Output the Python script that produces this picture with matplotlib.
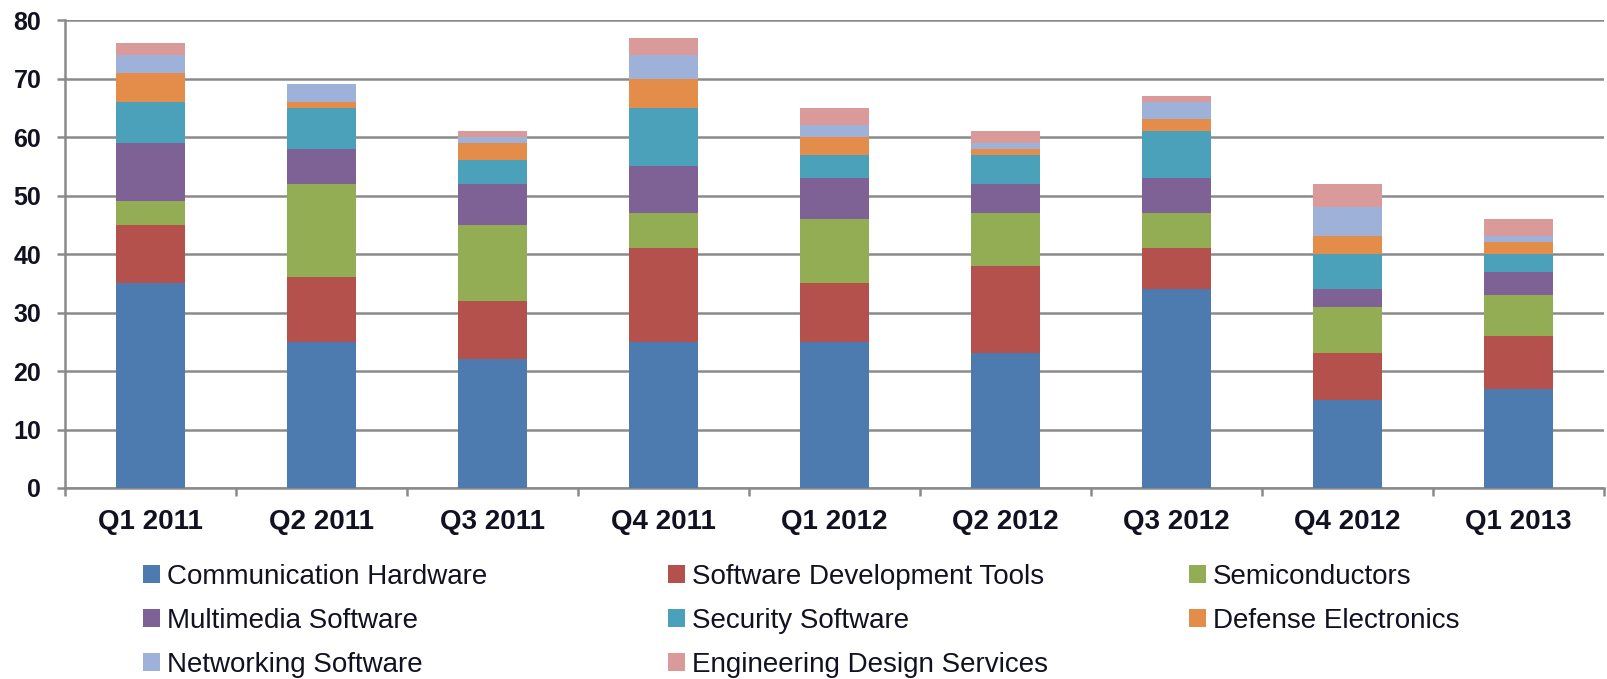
import numpy as np
import matplotlib
matplotlib.use("Agg")
import matplotlib.pyplot as plt
from matplotlib.ticker import FixedLocator

# quarters on the x axis
quarters = ["Q1 2011", "Q2 2011", "Q3 2011", "Q4 2011", "Q1 2012",
            "Q2 2012", "Q3 2012", "Q4 2012", "Q1 2013"]

# segment values per quarter
comm_hw = [35, 25, 22, 25, 25, 23, 34, 15, 17]
sw_dev_tools = [10, 11, 10, 16, 10, 15, 7, 8, 9]
semis = [4, 16, 13, 6, 11, 9, 6, 8, 7]
multimedia = [10, 6, 7, 8, 7, 5, 6, 3, 4]
security = [7, 7, 4, 10, 4, 5, 8, 6, 3]
defense = [5, 1, 3, 5, 3, 1, 2, 3, 2]
networking = [3, 3, 1, 4, 2, 1, 3, 5, 1]
eng_design = [2, 0, 1, 3, 3, 2, 1, 4, 3]

series_names = ["Communication Hardware", "Software Development Tools", "Semiconductors",
                "Multimedia Software", "Security Software", "Defense Electronics",
                "Networking Software", "Engineering Design Services"]
series_vals = [comm_hw, sw_dev_tools, semis, multimedia, security, defense, networking, eng_design]
colors = ["#4E7BAF", "#B5514C", "#93AD55", "#7E6296",
          "#4AA1B9", "#E48C4A", "#9EB2D9", "#DB9A9A"]

plt.rcParams['font.family'] = ['Liberation Sans', 'DejaVu Sans']

fig = plt.figure(figsize=(16.08, 6.79), dpi=100)
ax = fig.add_axes([0.0404, 0.2813, 0.9571, 0.6892])

x = np.arange(len(quarters))
bottom = np.zeros(len(quarters))
handles = []
for name, vals, c in zip(series_names, series_vals, colors):
    b = ax.bar(x, vals, width=0.4, bottom=bottom, color=c, label=name, zorder=3, linewidth=0)
    handles.append(b)
    bottom += np.array(vals)

ax.set_xlim(-0.5, len(quarters) - 0.5)
ax.set_ylim(0, 80)
ax.set_yticks(range(0, 81, 10))
ax.yaxis.grid(True, color="#8a8a8a", linewidth=1.8, zorder=0)
ax.set_axisbelow(True)

for s in ["top", "right"]:
    ax.spines[s].set_visible(False)
for s in ["left", "bottom"]:
    ax.spines[s].set_color("#8a8a8a")
    ax.spines[s].set_linewidth(1.8)

ax.set_xticks(x)
ax.set_xticklabels(quarters, fontsize=20, fontweight="bold", color="#111122")
ax.tick_params(axis="x", which="major", length=0, pad=15)
ax.xaxis.set_minor_locator(FixedLocator(np.arange(-0.5, len(quarters), 1)))
ax.tick_params(axis="x", which="minor", length=6, width=1.8, color="#8a8a8a", direction="out")
ax.tick_params(axis="y", length=6, width=1.8, color="#8a8a8a", pad=11,
               labelsize=18, labelcolor="#111122")
for t in ax.get_yticklabels():
    t.set_fontweight("bold")

# legend: three columns, filled row-wise like the original
col_x = [143, 668, 1189]
for col in range(3):
    idx = list(range(col, len(series_names), 3))
    fig.legend([handles[i] for i in idx], [series_names[i] for i in idx],
               loc="upper left", bbox_to_anchor=(col_x[col] / 1608, 1 - 564 / 679),
               ncol=1, frameon=False, fontsize=20, handlelength=0.6, handleheight=0.6,
               handletextpad=0.25, labelspacing=0.64, borderpad=0, borderaxespad=0,
               labelcolor="#111122")

fig.savefig("out.png", dpi=100)
